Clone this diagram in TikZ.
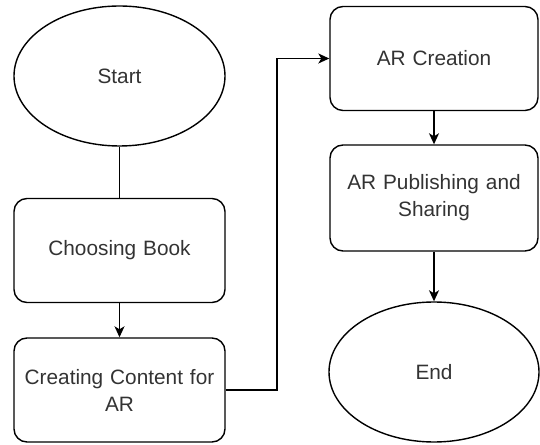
\documentclass[tikz,border=0pt]{standalone}
\usepackage{fontspec}
\setmainfont{Liberation Sans}
\usetikzlibrary{shapes.geometric,arrows.meta}
\definecolor{txt}{HTML}{333333}
\tikzset{
  x=1pt,y=1pt,
  base/.style={draw=black,line width=1.4pt,text=txt,align=center,
    font=\fontsize{20.8}{27}\selectfont,inner sep=0pt},
  term/.style={base,ellipse,minimum width=211pt,minimum height=140pt},
  stepbox/.style={base,rectangle,rounded corners=13pt,minimum width=211pt,minimum height=104pt,text width=200pt},
  flow/.style={line width=1.4pt,-{Stealth[length=11pt,width=10pt,inset=3pt]}},
  plain/.style={line width=1.4pt}
}
\begin{document}
\begin{tikzpicture}
\useasboundingbox (0,0) rectangle (540,444);
\node[term] (start) at (119.5,368) {Start};
\node[stepbox] (book) at (119.5,193.5) {Choosing Book};
\node[stepbox] (content) at (119.5,54) {Creating Content for\\AR};
\node[stepbox,minimum width=208pt] (create) at (434,385.5) {AR Creation};
\node[stepbox,minimum width=208pt,minimum height=106pt] (publish) at (434,246) {AR Publishing and\\Sharing};
\node[term,minimum width=210pt] (end) at (434,72) {End};
\coordinate (bendlow) at (277,54);
\coordinate (bendhigh) at (277,385.5);
\draw[plain] (start) -- (book);
\draw[flow] (book) -- (content);
\draw[flow] (content.east) -- (bendlow) -- (bendhigh) -- (create.west);
\draw[flow] (create) -- (publish);
\draw[flow] (publish) -- (end);
\end{tikzpicture}
\end{document}
